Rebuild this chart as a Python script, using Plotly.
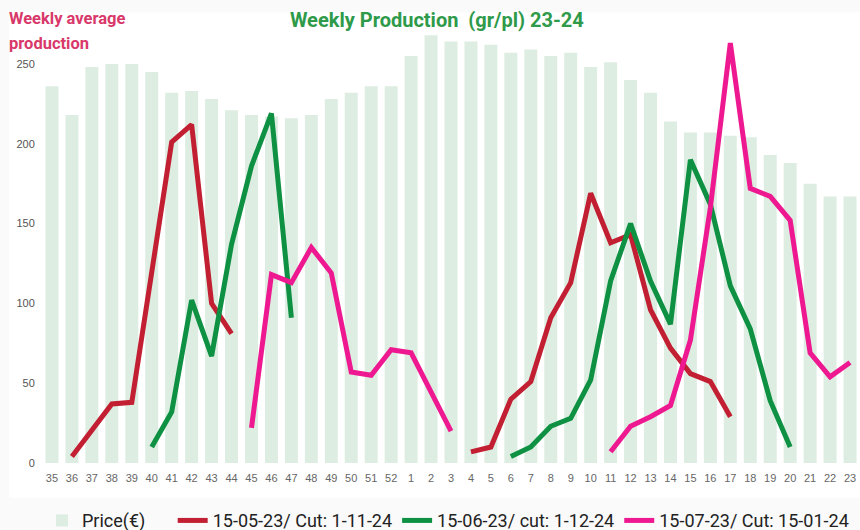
import plotly.graph_objects as go

weeks = [str(w) for w in list(range(35, 53)) + list(range(1, 24))]

price = [236, 218, 248, 250, 250, 245, 232, 233, 228, 221, 218, 217, 216, 218,
         228, 232, 236, 236, 255, 268, 264, 264, 262, 257, 259, 255, 257, 248,
         251, 240, 232, 214, 207, 207, 205, 204, 193, 188, 175, 167, 167]

N = None
red = [N, 4, 20, 37, 38, 120, 201, 212, 100, 81, N, N, N, N, N, N, N, N, N, N, N,
       7, 10, 40, 51, 91, 113, 169, 138, 143, 96, 72, 56, 51, 29, N, N, N, N, N, N]

green = [N, N, N, N, N, 10, 32, 102, 67, 137, 186, 219, 91, N, N, N, N, N, N, N, N,
         N, N, 4, 10, 23, 28, 52, 114, 150, 114, 87, 190, 162, 111, 84, 39, 10, N, N, N]

pink = [N, N, N, N, N, N, N, N, N, N, 22, 118, 113, 135, 119, 57, 55, 71, 69, 45, 20,
        N, N, N, N, N, N, N, 7, 23, 29, 36, 77, 160, 263, 172, 167, 152, 69, 54, 63]

price_name = "Price(€)"
series_names = ["15-05-23/ Cut: 1-11-24", "15-06-23/ cut: 1-12-24", "15-07-23/ Cut: 15-01-24"]
series_colors = ["#c21f32", "#0e9142", "#ee1990"]

fig = go.Figure()
fig.add_trace(go.Bar(x=weeks, y=price, name=price_name + "&nbsp;" * 5,
                     marker_color="#ddede2", marker_line_width=0))
for vals, nm, col in zip([red, green, pink], series_names, series_colors):
    fig.add_trace(go.Scatter(x=weeks, y=vals, name=nm, mode="lines",
                             line=dict(color=col, width=5), connectgaps=False))

fig.update_layout(
    width=860, height=530,
    margin=dict(l=42, r=0, t=32, b=67, autoexpand=False),
    paper_bgcolor="#fafafa", plot_bgcolor="white",
    bargap=0.35,
    showlegend=True,
    legend=dict(orientation="h", x=0.0, xanchor="left", y=-0.091, yanchor="top",
                font=dict(family="Roboto, sans-serif", size=18, color="#222"),
                bgcolor="rgba(0,0,0,0)", itemwidth=30),
    title=dict(text="<b>Weekly Production  (gr/pl) 23-24</b>", x=0.508, xanchor="center",
               y=0.962, yanchor="middle", automargin=False,
               font=dict(family="Roboto, sans-serif", size=20, color="#2e9a4a")),
    xaxis=dict(type="category", showgrid=False, zeroline=False, showline=False,
               automargin=False,
               ticks="outside", ticklen=5, tickcolor="rgba(0,0,0,0)",
               tickfont=dict(family="Liberation Sans, Arial, sans-serif", size=11, color="#666")),
    yaxis=dict(range=[0, 270], tickvals=[0, 50, 100, 150, 200, 250], showgrid=False,
               automargin=False,
               zeroline=False, showline=False, ticks="outside", ticklen=4,
               tickcolor="rgba(0,0,0,0)",
               tickfont=dict(family="Liberation Sans, Arial, sans-serif", size=11, color="#555")),
)
fig.add_shape(type="rect", xref="paper", yref="paper", x0=-0.04, x1=1.0, y0=-0.08, y1=1.045,
              fillcolor="white", line_width=0, layer="below")
for txt, yy in [("<b>Weekly average</b>", 1.059), ("<b>production</b>", 1.0)]:
    fig.add_annotation(text=txt, xref="paper", yref="paper", x=-0.043, y=yy,
                       xanchor="left", yanchor="top", showarrow=False,
                       font=dict(family="Roboto, sans-serif", size=16.5, color="#d8386a"))

fig.write_html("out.html", config={"displayModeBar": False},
               post_script="document.body.style.margin='0px';document.body.style.overflow='hidden';")
